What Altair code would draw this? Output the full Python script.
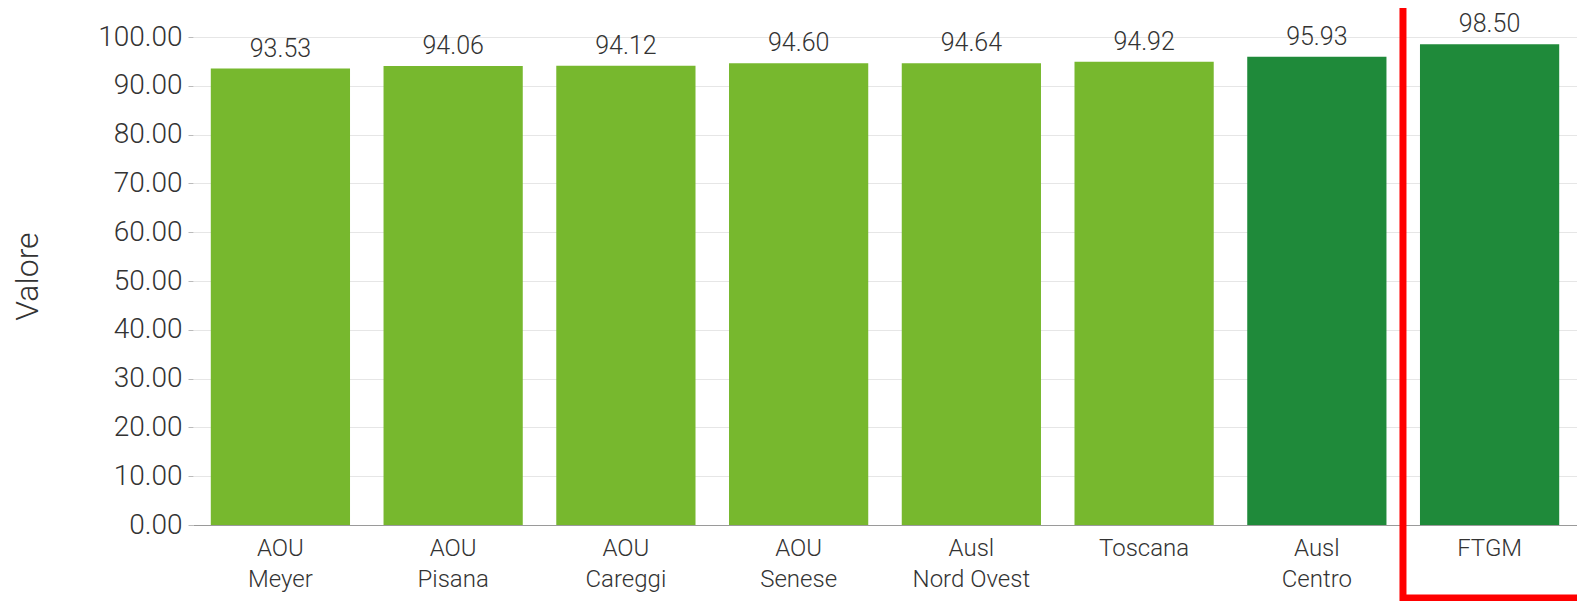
import altair as alt
import pandas as pd

categories = ["AOU\nMeyer", "AOU\nPisana", "AOU\nCareggi", "AOU\nSenese",
              "Ausl\nNord Ovest", "Toscana", "Ausl\nCentro", "FTGM"]
values = [93.53, 94.06, 94.12, 94.60, 94.64, 94.92, 95.93, 98.50]
groups = ["light", "light", "light", "light", "light", "light", "dark", "dark"]
highlight = ["FTGM"]

df = pd.DataFrame({"cat": categories, "val": values, "grp": groups})
hl = pd.DataFrame({"cat": highlight})

W, H = 1384, 488
FONT = "Roboto"

xenc = alt.X("cat:N", sort=categories, title=None,
             scale=alt.Scale(paddingInner=0.194, paddingOuter=0.103),
             axis=alt.Axis(labelExpr="split(datum.label, '\\n')", labelAngle=0,
                           labelFontSize=24, labelFont=FONT, labelFontWeight=300,
                           labelColor="#333333", labelPadding=11, labelLineHeight=31,
                           ticks=False, domainColor="#9a9a9a", domainWidth=1.2,
                           grid=False, labelBaseline="top"))

bars = alt.Chart(df).mark_bar().encode(
    x=xenc,
    y=alt.Y("val:Q", title="Valore",
            scale=alt.Scale(domain=[0, 100], nice=False),
            axis=alt.Axis(values=list(range(0, 101, 10)), format=".2f",
                          labelFontSize=28, labelFont=FONT, labelFontWeight=300,
                          labelColor="#333333", labelPadding=6, tickSize=5,
                          tickColor="#bbbbbb", domain=False, gridColor="#e6e6e6",
                          titleFontSize=32, titleFont=FONT, titleFontWeight=300,
                          titleColor="#333333", titleX=-166, titleY=239,
                          titleBaseline="middle", titleAlign="center", titleAngle=270)),
    color=alt.Color("grp:N", scale=alt.Scale(domain=["light", "dark"],
                                               range=["#77b82e", "#1f8a3a"]), legend=None),
)

labels = alt.Chart(df).mark_text(baseline="alphabetic", dy=-12, fontSize=25, font=FONT,
                                 fontWeight=300, color="#333333").encode(
    x=alt.X("cat:N", sort=categories),
    y="val:Q",
    text=alt.Text("val:Q", format=".2f"),
)

box = alt.Chart(hl).mark_rect(fillOpacity=0, stroke="#ff0000", strokeWidth=7,
                              clip=False, xOffset=-17).encode(
    x=alt.X("cat:N", sort=categories, bandPosition=0),
    x2=alt.value(W + 40),
    y=alt.value(-45),
    y2=alt.value(H + 73),
)

chart = alt.layer(bars, labels, box).properties(
    width=W, height=H,
    padding={"left": 185, "top": 29, "right": 0, "bottom": 76},
    autosize=alt.AutoSizeParams(type="none"),
).configure_view(stroke=None).configure_axis(gridWidth=1)

chart.save("out.html", embed_options={"renderer": "svg", "actions": False})
